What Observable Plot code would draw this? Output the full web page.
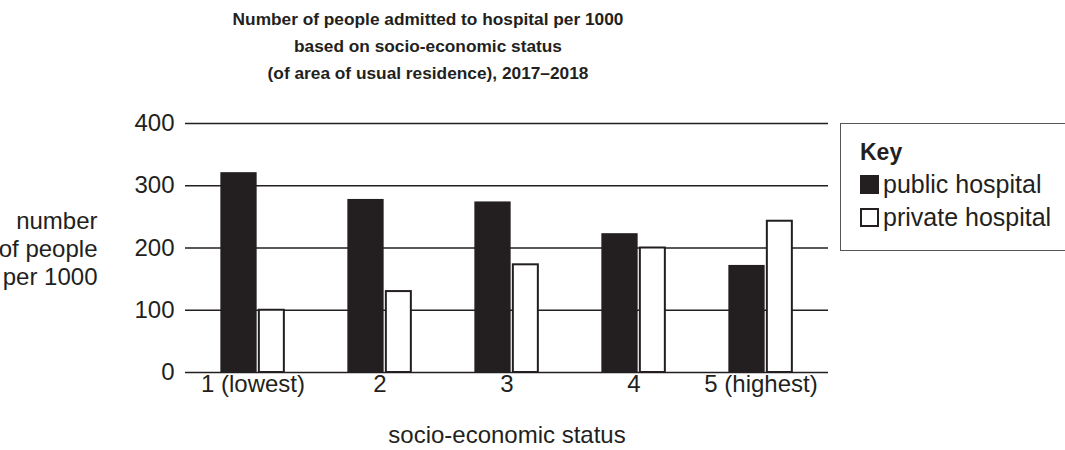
<!DOCTYPE html>
<html>
<head>
<meta charset="utf-8">
<script src="https://cdn.jsdelivr.net/npm/d3@7"></script>
<script src="https://cdn.jsdelivr.net/npm/@observablehq/plot@0.6"></script>
<style>
  html, body { margin: 0; padding: 0; background: #fff; }
  body { width: 1065px; height: 450px; position: relative; overflow: hidden; font-family: "Liberation Sans", Arial, Helvetica, sans-serif; color: #231f20; }
  #title { position: absolute; left: 0; top: 6px; width: 856px; text-align: center; font-weight: bold; font-size: 17.3px; line-height: 27px; }
  #chart { position: absolute; left: 0; top: 100px; }
  #legend { position: absolute; left: 840px; top: 123px; width: 240px; height: 128px; border: 1px solid #555; box-sizing: border-box; }
  #legend .key { position: absolute; left: 19px; top: 14px; font-weight: bold; font-size: 23px; line-height: 28px; }
  #legend .item { position: absolute; left: 19px; font-size: 25px; line-height: 28px; display: flex; align-items: center; }
  #legend .sw { width: 19px; height: 19px; box-sizing: border-box; margin-right: 4px; }
</style>
</head>
<body>
<div id="title">Number of people admitted to hospital per 1000<br>based on socio-economic status<br>(of area of usual residence), 2017–2018</div>
<div id="chart"></div>
<div id="legend"></div>
<script>
const categories = ["1 (lowest)", "2", "3", "4", "5 (highest)"];
const publicValues = [321, 278, 274, 223, 172];
const privateValues = [100, 130, 173, 200, 243];
const yTicks = [0, 100, 200, 300, 400];
const seriesNames = ["public hospital", "private hospital"];
const yAxisLabel = "number\nof people\nper 1000";
const xAxisLabel = "socio-economic status";

const ink = "#231f20";
const publicData = categories.map((c, i) => ({category: c, value: publicValues[i]}));
const privateData = categories.map((c, i) => ({category: c, value: privateValues[i]}));

const marginLeft = 185, marginRight = 237, width = 1065, height = 350;
const paddingOuter = 0.0176;
const step = (width - marginLeft - marginRight) / (categories.length + 2 * paddingOuter);
const half = step / 2;
const fs = 24;

const chart = Plot.plot({
  width, height,
  marginLeft, marginRight, marginTop: 23, marginBottom: 78,
  style: {fontFamily: "'Liberation Sans', Arial, Helvetica, sans-serif", fontSize: fs + "px", color: ink, background: "white"},
  x: {type: "band", domain: categories, paddingInner: 0, paddingOuter},
  y: {domain: [0, 400]},
  marks: [
    Plot.ruleY(yTicks, {stroke: ink, strokeWidth: 1.3}),
    Plot.barY(publicData, {x: "category", y: "value", fill: ink,
      insetLeft: half - 32.5, insetRight: half - 4.5}),
    Plot.barY(privateData, {x: "category", y: "value", fill: "white", stroke: ink, strokeWidth: 2,
      insetLeft: half + 6, insetRight: half - 31.7}),
    Plot.axisY({ticks: yTicks, tickSize: 0, tickPadding: 11, label: null, fontSize: fs}),
    Plot.axisX({tickSize: 0, tickPadding: 2, label: null, fontSize: fs}),
    Plot.text([yAxisLabel], {frameAnchor: "left", dx: -88, textAnchor: "end", lineHeight: 1.17, fontSize: fs}),
    Plot.text([xAxisLabel], {frameAnchor: "bottom", dy: 70, fontSize: fs})
  ]
});
document.getElementById("chart").appendChild(chart);

const legend = document.getElementById("legend");
legend.innerHTML = `<div class="key">Key</div>
<div class="item" style="top:46px"><div class="sw" style="background:${ink}"></div>${seriesNames[0]}</div>
<div class="item" style="top:79px"><div class="sw" style="background:#fff;border:2px solid ${ink}"></div>${seriesNames[1]}</div>`;
</script>
</body>
</html>
